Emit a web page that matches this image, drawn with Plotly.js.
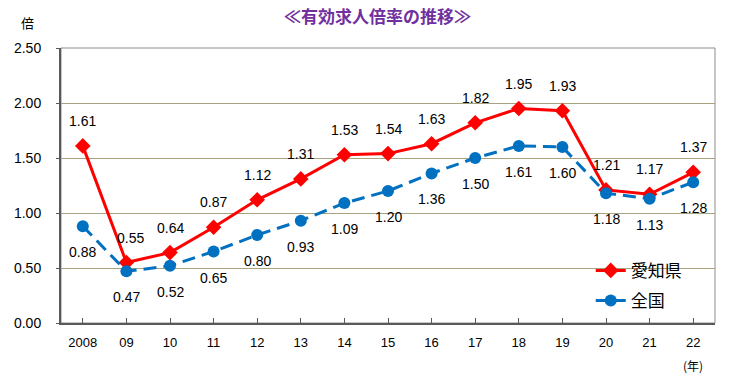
<!DOCTYPE html>
<html><head><meta charset="utf-8">
<script src="https://cdn.plot.ly/plotly-3.0.1.min.js"></script>
<style>body{margin:0;background:#fff}#c{width:735px;height:384px}</style>
</head><body><div id="c"></div>
<script>
const years = ['2008','09','10','11','12','13','14','15','16','17','18','19','20','21','22'];
const aichi = [1.61,0.55,0.64,0.87,1.12,1.31,1.53,1.54,1.63,1.82,1.95,1.93,1.21,1.17,1.37];
const zenkoku = [0.88,0.47,0.52,0.65,0.80,0.93,1.09,1.20,1.36,1.50,1.61,1.60,1.18,1.13,1.28];
const yTicks = [0,0.5,1,1.5,2,2.5];

const numFont = {family:'Liberation Sans, Arial, sans-serif', size:14, color:'#000'};
const cjk = 'Noto Sans CJK JP, sans-serif';

const traces = [
  {x: years, y: aichi, name:'愛知県', legendgroup:'a', type:'scatter', mode:'lines+markers',
   line:{color:'#FF0000', width:3}, marker:{symbol:'diamond', size:12, color:'#FF0000'}},
  {x: years, y: zenkoku, name:'全国', legendgroup:'b', type:'scatter', mode:'lines+markers',
   line:{color:'#0070C0', width:3, dash:'13px,7px'}, marker:{symbol:'circle', size:12, color:'#0070C0'}}
];

const ann = [];
years.forEach((yr,i)=>{
  ann.push({x:i, y:aichi[i], xref:'x', yref:'y', text:aichi[i].toFixed(2), showarrow:false, yshift:25, xshift:(i===1?4:0), font:numFont});
  ann.push({x:i, y:zenkoku[i], xref:'x', yref:'y', text:zenkoku[i].toFixed(2), showarrow:false, yshift:-26, font:numFont});
});
ann.push({xref:'paper', yref:'paper', x:0.484, y:1.0, yanchor:'middle', yshift:33, text:'<b>≪有効求人倍率の推移≫</b>', showarrow:false,
  font:{family:cjk, size:17, weight:900, color:'#7030A0'}});
ann.push({xref:'paper', yref:'paper', x:-0.064, y:1.0, yanchor:'middle', yshift:26, text:'倍', showarrow:false, font:{family:cjk, size:13, color:'#000'}});
ann.push({x:years.length-1, xref:'x', yref:'paper', y:0, yanchor:'middle', yshift:-42, text:'(年)', showarrow:false, font:{family:cjk, size:12, color:'#000'}});

const layout = {
  width:735, height:384,
  margin:{l:61, r:20, t:48, b:61},
  paper_bgcolor:'#fff', plot_bgcolor:'#fff',
  showlegend:true,
  legend:{x:0.81, y:0.255, xanchor:'left', yanchor:'top', bgcolor:'rgba(255,255,255,0)',
    font:{family:cjk, size:17, color:'#000'}, tracegroupgap:5},
  xaxis:{type:'category', range:[-0.5,14.5], showgrid:false, showline:true, linecolor:'#595959', linewidth:2,
    ticks:'inside', ticklen:5, tickcolor:'#595959', tickfont:{family:'Liberation Sans, Arial, sans-serif', size:13, color:'#000'},
    ticklabelstandoff:6, fixedrange:true},
  yaxis:{range:[0,2.5], tickvals:yTicks, ticktext:yTicks.map(v=>v.toFixed(2)), showgrid:true, gridcolor:'#A9A27E', gridwidth:1,
    showline:true, linecolor:'#595959', linewidth:2, ticks:'outside', ticklen:3, tickcolor:'#595959',
    tickfont:{family:'Liberation Sans, Arial, sans-serif', size:14, color:'#000'}, ticklabelstandoff:12, zeroline:false, fixedrange:true},
  shapes:[{type:'rect', xref:'paper', yref:'paper', x0:0, x1:1, y0:0, y1:1, line:{color:'#8C8C8C', width:1}, layer:'below'}],
  annotations: ann
};
Plotly.newPlot('c', traces, layout, {displayModeBar:false, staticPlot:true});
</script></body></html>
